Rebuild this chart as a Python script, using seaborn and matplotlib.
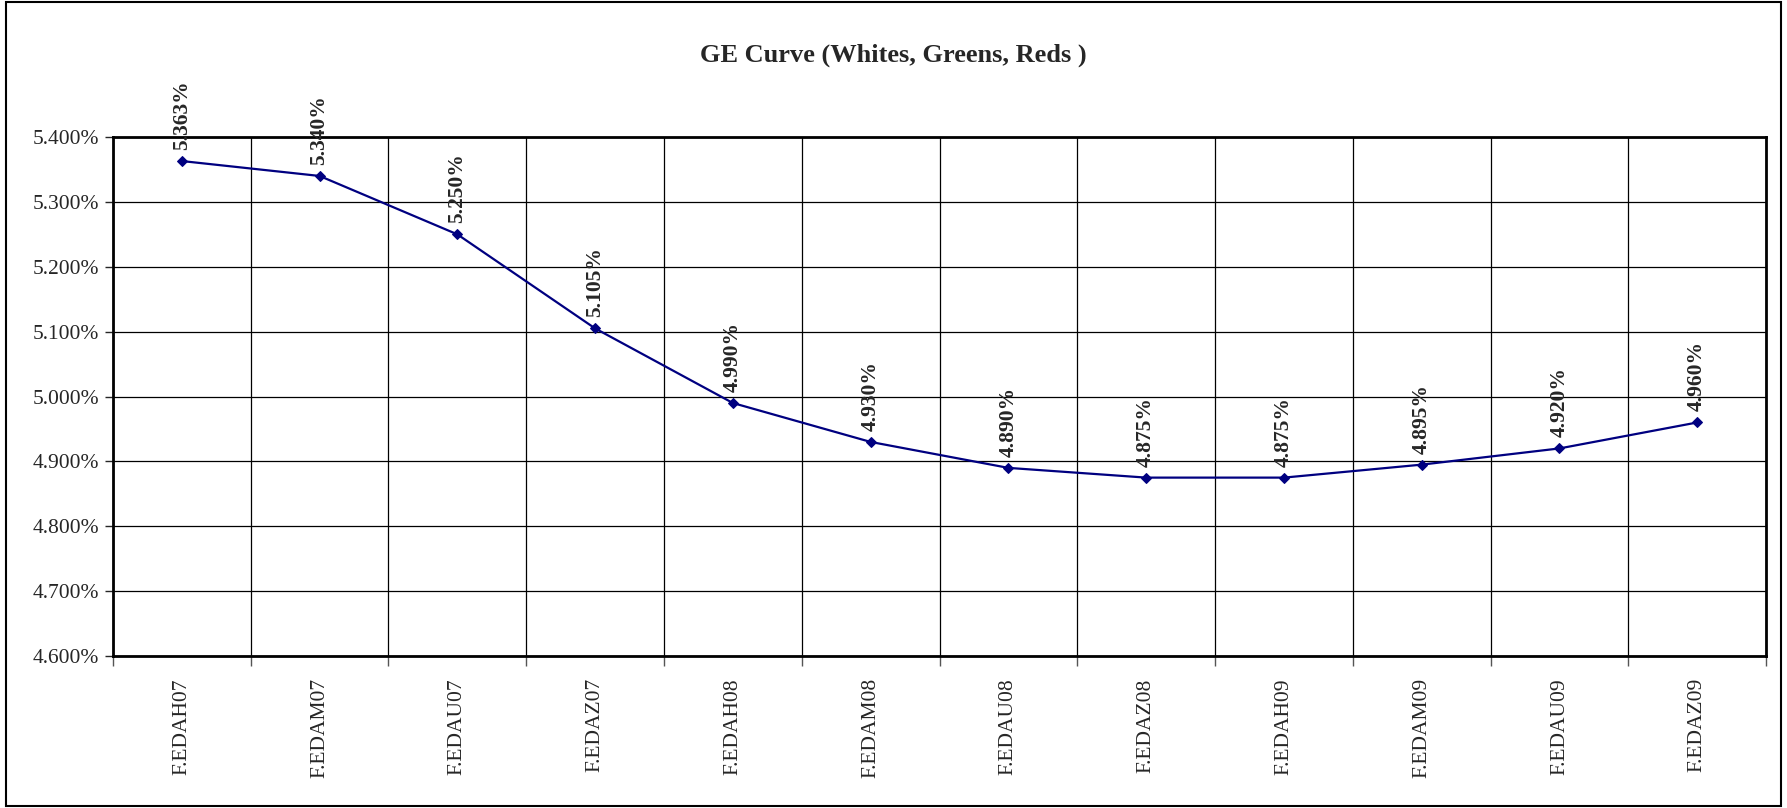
import numpy as np
import pandas as pd
import seaborn as sns
import matplotlib.pyplot as plt
from matplotlib.patches import Rectangle
from matplotlib.ticker import FuncFormatter, MultipleLocator, FixedLocator

contracts = ["F.EDAH07", "F.EDAM07", "F.EDAU07", "F.EDAZ07",
             "F.EDAH08", "F.EDAM08", "F.EDAU08", "F.EDAZ08",
             "F.EDAH09", "F.EDAM09", "F.EDAU09", "F.EDAZ09"]
rates = [5.363, 5.340, 5.250, 5.105, 4.990, 4.930,
         4.890, 4.875, 4.875, 4.895, 4.920, 4.960]

df = pd.DataFrame({"pos": np.arange(len(contracts)), "rate": rates})

sns.set_style("white")
plt.rcParams["font.family"] = ["Liberation Serif", "DejaVu Serif"]

fig = plt.figure(figsize=(17.87, 8.08), dpi=100)
ax = fig.add_axes([0.0632, 0.1881, 0.9251, 0.6423])

sns.lineplot(data=df, x="pos", y="rate", ax=ax, color="#000080",
             marker="D", markersize=5, markeredgecolor="#000080",
             linewidth=1.6)

# data labels
for i, v in enumerate(rates):
    ax.annotate(f"{v:.3f}%", (i, v), xytext=(0, 8), textcoords="offset points",
                rotation=90, ha="center", va="bottom", fontsize=15.5,
                fontweight="bold", annotation_clip=False)

ax.set_xlim(-0.5, len(contracts) - 0.5)
ax.set_ylim(4.6, 5.4)
ax.yaxis.set_major_locator(MultipleLocator(0.1))
ax.yaxis.set_major_formatter(FuncFormatter(lambda y, p: f"{y:.3f}%"))

ax.set_xticks(np.arange(len(contracts)))
ax.set_xticklabels(contracts, rotation=90, fontsize=15.5)
ax.xaxis.set_minor_locator(FixedLocator(np.arange(-0.5, len(contracts), 1.0)))
ax.tick_params(axis="x", which="major", length=0, pad=16)
ax.tick_params(axis="x", which="minor", length=7, width=1, color="#555555",
               direction="out", bottom=True)
ax.tick_params(axis="y", length=6, width=1, direction="out", left=True,
               labelsize=15.5, pad=4)

ax.grid(False)
ax.yaxis.grid(True, color="black", linewidth=0.9)
ax.xaxis.grid(True, which="minor", color="black", linewidth=0.9)
ax.set_axisbelow(True)

for s in ax.spines.values():
    s.set_visible(True)
    s.set_color("black")
    s.set_linewidth(2)

ax.set_xlabel("")
ax.set_ylabel("")

fig.text(0.5, 0.932, "GE Curve (Whites, Greens, Reds )", ha="center",
         va="center", fontsize=19, fontweight="bold")

fig.patches.append(Rectangle((6 / 1787, 2 / 808), 1775 / 1787, 804 / 808,
                             transform=fig.transFigure, fill=False,
                             edgecolor="black", linewidth=1.5))

fig.savefig("out.png", dpi=100, facecolor="white")
